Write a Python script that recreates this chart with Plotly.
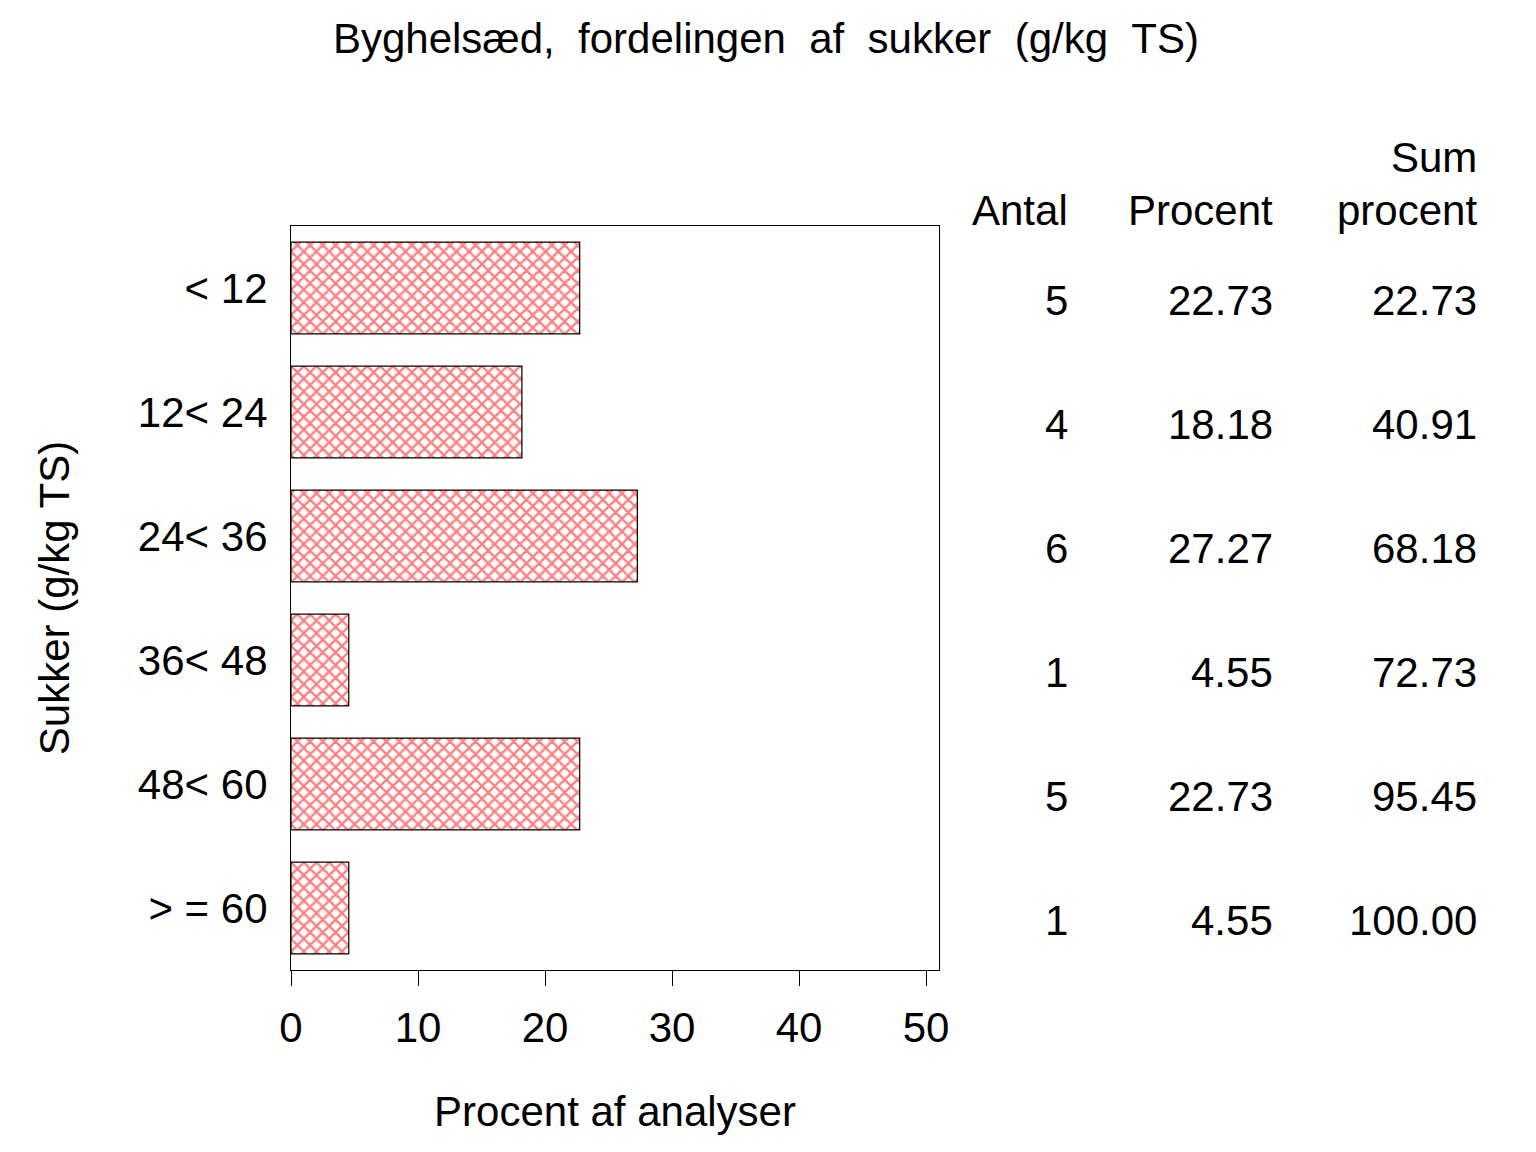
import plotly.graph_objects as go

# Sukker-klasser (g/kg TS) og fordeling
klasser = ["< 12", "12< 24", "24< 36", "36< 48", "48< 60", "> = 60"]
antal = [5, 4, 6, 1, 5, 1]
procent = [22.73, 18.18, 27.27, 4.55, 22.73, 4.55]
sum_procent = [22.73, 40.91, 68.18, 72.73, 95.45, 100.00]

x_ticks = [0, 10, 20, 30, 40, 50]

FONT = "Liberation Sans, Arial, sans-serif"
fs = 42

fig = go.Figure()
fig.add_trace(go.Bar(
    x=procent, y=klasser, orientation="h",
    width=0.74,
    marker=dict(
        color="white",
        line=dict(color="black", width=1.2),
        pattern=dict(shape="x", fgcolor="#ff0000", bgcolor="white", size=9, solidity=0.45),
    ),
    hoverinfo="skip",
))

# tabel til hoejre (raekkerne sidder lidt under bjaelkernes midte)
kolonner = [(1.2021, antal, "{:d}"), (1.5185, procent, "{:.2f}"), (1.8333, sum_procent, "{:.2f}")]
for xp, vals, fmt in kolonner:
    for k, v in zip(klasser, vals):
        fig.add_annotation(x=xp, xref="paper", y=k, yref="y", text=fmt.format(v),
                           showarrow=False, xanchor="right", yanchor="middle", yshift=-12,
                           font=dict(family=FONT, size=fs, color="black"))

headers = [(1.2021, 1.0202, "Antal"), (1.5185, 1.0202, "Procent"),
           (1.8333, 1.0927, "Sum"), (1.8333, 1.0202, "procent")]
for xp, yp, t in headers:
    fig.add_annotation(x=xp, xref="paper", y=yp, yref="paper", text=t, showarrow=False,
                       xanchor="right", yanchor="middle",
                       font=dict(family=FONT, size=fs, color="black"))

titel = "Byghelsæd, fordelingen af sukker (g/kg TS)".replace(" ", " \u00a0")

fig.update_layout(
    width=1536, height=1152,
    margin=dict(l=283, r=605, t=218, b=190),
    paper_bgcolor="white", plot_bgcolor="white",
    showlegend=False,
    font=dict(family=FONT, size=fs, color="black"),
    title=dict(text=titel,
               x=(766 - 8) / 1536, xref="container", xanchor="center",
               y=1 - 30 / 1152, yanchor="middle",
               font=dict(family=FONT, size=42, color="black")),
    bargap=0.26,
)
fig.update_xaxes(
    range=[0, 51.02], tickvals=x_ticks, ticks="outside", ticklen=15, tickwidth=1.2,
    tickcolor="black", showline=True, linecolor="black", linewidth=1.2, mirror=True,
    showgrid=False, zeroline=False, ticklabelstandoff=5,
    title=dict(text="Procent af analyser", standoff=47, font=dict(family=FONT, size=fs)),
)
fig.update_yaxes(
    categoryorder="array", categoryarray=klasser, autorange="reversed",
    showline=True, linecolor="black", linewidth=1.2, mirror=True,
    showgrid=False, ticks="", ticklabelstandoff=14,
    title=dict(text="Sukker (g/kg TS)", standoff=55, font=dict(family=FONT, size=fs)),
)

fig.write_html("out.html")
